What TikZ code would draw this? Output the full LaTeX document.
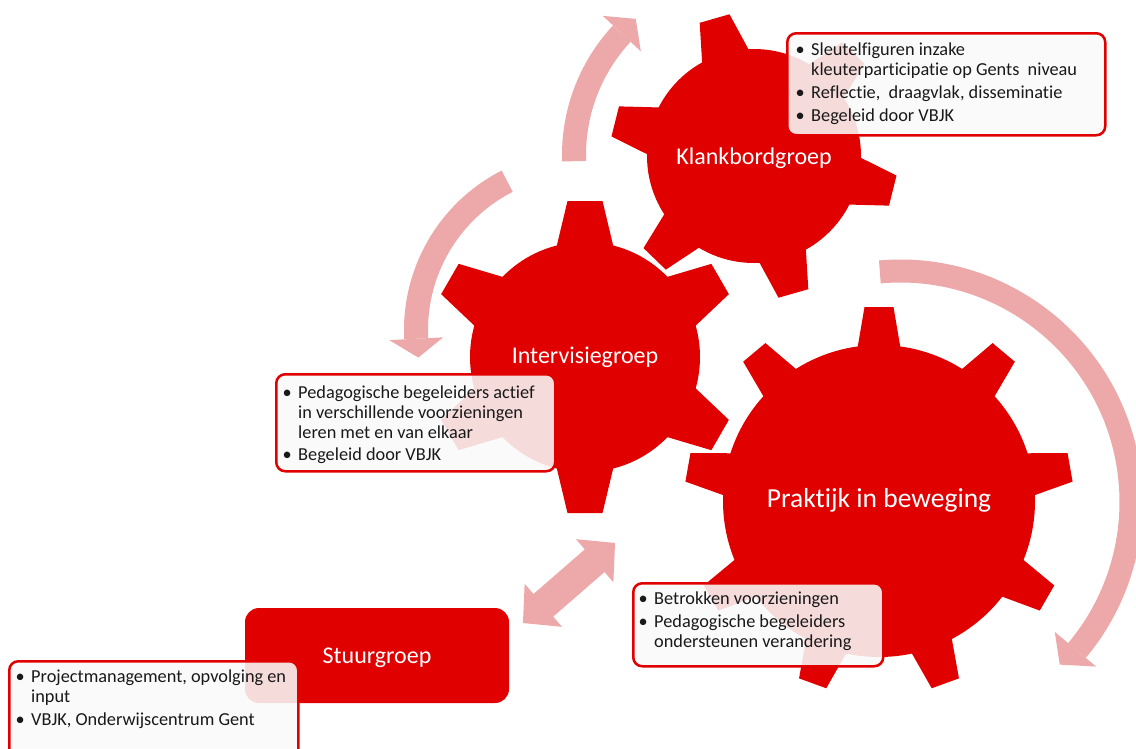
\documentclass[tikz,border=0pt]{standalone}
\usepackage{fontspec}
\setmainfont{Carlito}[Ligatures={NoCommon,NoContextual}]
\usetikzlibrary{calc}
\definecolor{gearred}{RGB}{224,0,0}
\definecolor{arrowpink}{RGB}{237,169,169}
\definecolor{boxtextcol}{RGB}{25,25,25}
\definecolor{boxfill}{RGB}{250,250,250}
\newcommand{\bl}{\makebox[15.5pt][l]{\textbullet}}
\begin{document}
\begin{tikzpicture}[x=1pt,y=-1pt,
 arrowband/.style={draw=arrowpink, line width=24pt},
 arrowtip/.style={fill=arrowpink},
 infobox/.style={draw=gearred, line width=2.5pt, rounded corners=9pt, fill=boxfill, fill opacity=0.88, inner sep=0pt, anchor=north west},
 boxtext/.style={anchor=base west, inner sep=0pt, text=boxtextcol, font=\fontsize{18.3}{20}\selectfont},
 gearlabel/.style={anchor=base, inner sep=0pt, text=white, font=\fontsize{24}{28}\selectfont}
]
\clip (0,0) rectangle (1136,748);
\fill[white] (0,0) rectangle (1136,748);

% centres
\coordinate (kc) at (754,156);
\coordinate (ic) at (585,357);
\coordinate (pc) at (879,501);
\coordinate (ac) at (752,155);
\coordinate (bc) at (583,330);
\coordinate (cc) at (900,502);

% curved arrows
\draw[arrowband] ($(ac)+(178:178)$) arc[start angle=178, end angle=223, radius=178];
\fill[arrowtip] ($(ac)+(223:204)$) -- ($(ac)+(229.5:179)$) -- ($(ac)+(223:152)$) -- cycle;

\draw[arrowband] ($(bc)+(243:167)$) arc[start angle=243, end angle=177, radius=167];
\fill[arrowtip] ($(bc)+(177:194)$) -- ($(bc)+(170.5:167)$) -- ($(bc)+(177:140)$) -- cycle;

\draw[arrowband, line width=23pt] ($(cc)+(265:231)$) arc[start angle=265, end angle=400, radius=231];
\fill[arrowtip] ($(cc)+(40:256)$) -- ($(cc)+(45.5:228)$) -- ($(cc)+(40:202)$) -- cycle;

% double arrow
\fill[arrowtip, shift={(569,583)}, rotate=41] (61,0) -- (34,28.5) -- (34,15) -- (-34,15) -- (-34,28.5) -- (-61,0) -- (-34,-28.5) -- (-34,-15) -- (34,-15) -- (34,-28.5) -- cycle;

% gears
\fill[gearred] (kc) circle[radius=107];
\foreach \a in {14,74,134,194,254,314}
  \fill[gearred, shift={(kc)}, rotate=-\a] (100,-25) -- (143,-15.5) -- (143,15.5) -- (100,25) -- cycle;

\fill[gearred] (ic) circle[radius=115];
\foreach \a in {270,330,30,90,150,210}
  \fill[gearred, shift={(ic)}, rotate=-\a] (108,-29) -- (156,-17.5) -- (156,17.5) -- (108,29) -- cycle;

\fill[gearred] (pc) circle[radius=156];
\foreach \a in {270,310,350,30,70,110,150,190,230}
  \fill[gearred, shift={(pc)}, rotate=-\a] (150,-22) -- (194,-14.5) -- (194,14.5) -- (150,22) -- cycle;

\node[gearlabel] (klank) at (754,164) {Klankbordgroep};
\node[gearlabel] (intervisie) at (585,363) {Intervisiegroep};
\node[gearlabel, font=\fontsize{27.5}{32}\selectfont] (praktijk) at (879,507) {Praktijk in beweging};

% Stuurgroep
\node[fill=gearred, rounded corners=14pt, minimum width=264pt, minimum height=95pt, inner sep=0pt] (stuur) at (377,655.5) {};
\node[gearlabel] (stuurlabel) at (377,663) {Stuurgroep};

% info boxes
\node[infobox, minimum width=318pt, minimum height=102pt] (kbox) at (786,32) {};
\node[boxtext] (kboxtext) at (795.5,55) {\begin{tabular}[t]{@{}l@{}l@{}}\bl & Sleutelfiguren inzake\\ & kleuterparticipatie op Gents\ \ niveau\\[3pt] \bl & Reflectie,\ \ draagvlak, disseminatie\\[3pt] \bl & Begeleid door VBJK\end{tabular}};

\node[infobox, minimum width=279pt, minimum height=97pt] (ibox) at (275,373) {};
\node[boxtext] (iboxtext) at (282.5,398) {\begin{tabular}[t]{@{}l@{}l@{}}\bl & Pedagogische begeleiders actief\\ & in verschillende voorzieningen\\ & leren met en van elkaar\\[2pt] \bl & Begeleid door VBJK\end{tabular}};

\node[infobox, minimum width=250pt, minimum height=83pt] (pbox) at (632,582) {};
\node[boxtext] (pboxtext) at (638.5,604) {\begin{tabular}[t]{@{}l@{}l@{}}\bl & Betrokken voorzieningen\\[3pt] \bl & Pedagogische begeleiders\\ & ondersteunen verandering\end{tabular}};

\node[infobox, minimum width=289pt, minimum height=110pt] (sbox) at (8,660) {};
\node[boxtext] (sboxtext) at (15.5,682) {\begin{tabular}[t]{@{}l@{}l@{}}\bl & Projectmanagement, opvolging en\\ & input\\[3pt] \bl & VBJK, Onderwijscentrum Gent\end{tabular}};
\end{tikzpicture}
\end{document}
